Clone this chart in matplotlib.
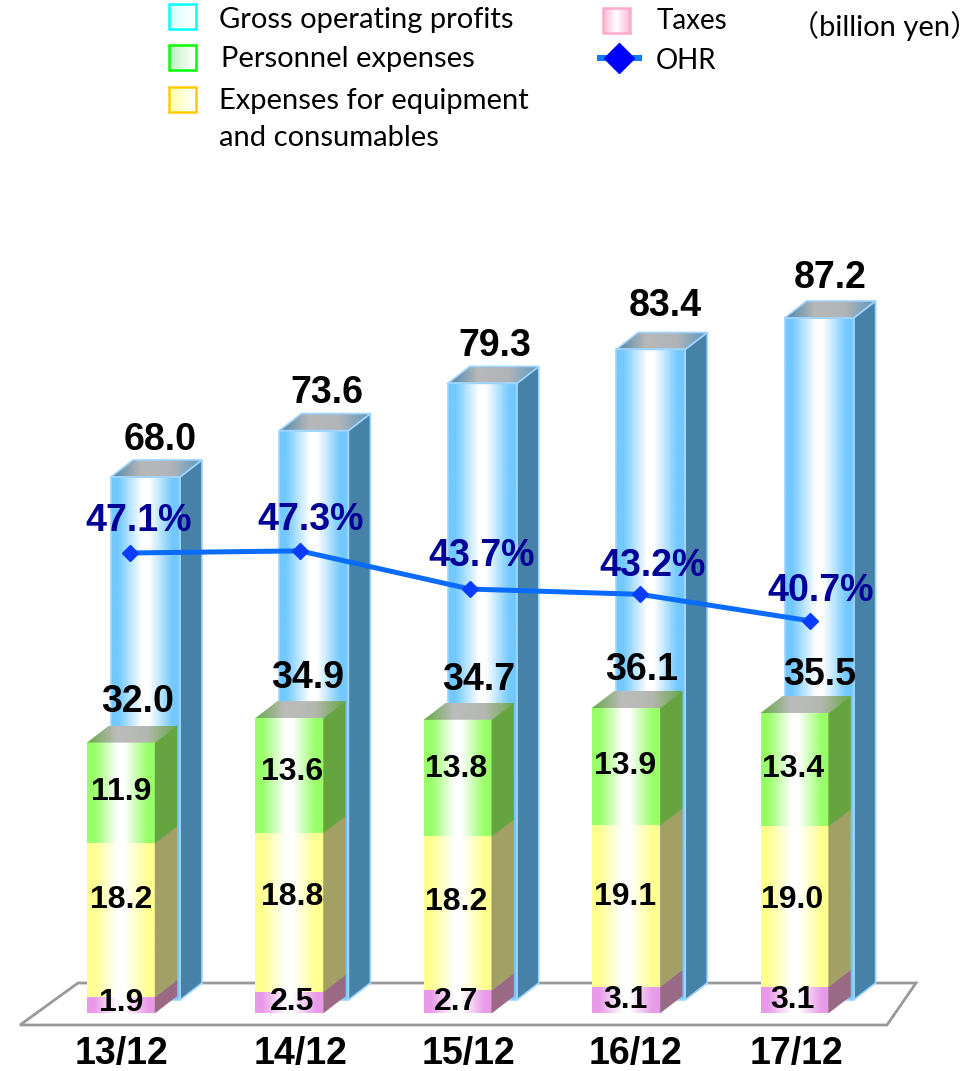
import matplotlib
matplotlib.use('Agg')
import matplotlib.pyplot as plt
import numpy as np
from matplotlib.colors import LinearSegmentedColormap
from matplotlib.patches import Polygon, Rectangle

W, H = 978, 1071

years = ['13/12', '14/12', '15/12', '16/12', '17/12']
gross_profits = [68.0, 73.6, 79.3, 83.4, 87.2]
taxes = [1.9, 2.5, 2.7, 3.1, 3.1]
equipment = [18.2, 18.8, 18.2, 19.1, 19.0]
personnel = [11.9, 13.6, 13.8, 13.9, 13.4]
total_expenses = [32.0, 34.9, 34.7, 36.1, 35.5]
ohr = [47.1, 47.3, 43.7, 43.2, 40.7]

# small per-column label nudges, in pixels
gross_nudge_x = [14.5, 13, 13, 15, 11]
gross_nudge_y = [-37, -38, -37, -43, -40]
total_nudge_x = [17, 18, 21, 15, 25]
total_nudge_y = [-41, -40, -40, -38, -38]
inner_nudge_x = [0, 2.5, -1.5, -1, -2]
tax_nudge_y = [-2, 0, 0, 0, 0]
equipment_nudge_y = [-20, -15.5, -11, -9, -6.5]
personnel_nudge_y = [-1, -4, -9, -1, -1]
ohr_nudge_x = [9, 11, 12, 13, 11]
ohr_nudge_y = [-32, -31, -33, -28, -30]
year_px = [121.5, 301, 468, 635.5, 796]

LABEL_FONT = 'Liberation Sans'
LEGEND_FONT = 'Lato'
DARK_BLUE = '#000099'


def px_pt(v):
    return v * 0.72


def new_axes(x_zero, x_step, y_zero, y_step, z):
    # axes over the whole figure, x in columns and y in the series' own unit
    ax = fig.add_axes([0, 0, 1, 1], zorder=z)
    ax.set_xlim(-x_zero / x_step, (W - x_zero) / x_step)
    ax.set_ylim((y_zero - H) / y_step, y_zero / y_step)
    ax.axis('off')
    return ax


def ramp(*colors):
    return LinearSegmentedColormap.from_list('ramp', colors)


def column_ramp(edge):
    return LinearSegmentedColormap.from_list('column', [
        (0, edge), (0.1, edge), (0.45, '#ffffff'), (0.55, '#ffffff'), (0.9, edge), (1, edge)])


def fill_gradient(ax, x0, x1, y0, y1, cmap, clip=None, z=2):
    grad = np.linspace(0, 1, 64).reshape(1, -1)
    im = ax.imshow(grad, extent=(x0, x1, y0, y1), cmap=cmap, aspect='auto',
                   interpolation='bilinear', origin='lower', zorder=z)
    if clip is not None:
        clip_patch = Polygon(clip, closed=True, transform=ax.transData)
        im.set_clip_path(clip_patch)
    return im


def prism(ax, x0, x1, v0, v1, dx, dy, front, side, top=None, edge=None):
    fill_gradient(ax, x0, x1, v0, v1, front)
    pts = [(x1, v0), (x1 + dx, v0 + dy), (x1 + dx, v1 + dy), (x1, v1)]
    ax.add_patch(Polygon(pts, closed=True, fc=side, ec=edge or side,
                         lw=1.2 if edge else 0.3, zorder=3))
    if top is not None:
        pts = [(x0, v1), (x0 + dx, v1 + dy), (x1 + dx, v1 + dy), (x1, v1)]
        fill_gradient(ax, x0, x1 + dx, v1, v1 + dy, top, clip=pts, z=3)
        if edge:
            ax.add_patch(Polygon(pts, closed=True, fc='none', ec=edge, lw=1.2, zorder=4))
    if edge:
        ax.add_patch(Rectangle((x0, v0), x1 - x0, v1 - v0, fc='none', ec=edge, lw=1.2, zorder=4))


def bold_label(ax, x, y, text, nx=0, ny=0, size=23, color='black'):
    ax.annotate(text, xy=(x, y), xytext=(px_pt(nx), -px_pt(ny)), textcoords='offset points',
                ha='center', va='center', fontsize=size, fontweight='bold',
                family=LABEL_FONT, color=color, zorder=10)


fig = plt.figure(figsize=(W / 100, H / 100), dpi=100, facecolor='white')

# floor and legend live in plain pixel coordinates
base = new_axes(0, 1, H, 1, 0)
base.set_ylim(H, 0)
base.add_patch(Polygon([(20, 1025), (887, 1025), (916, 983), (78, 983)], closed=True,
                       fc='none', ec='#999999', lw=2))

step = 168.4

# gross operating profit columns, standing behind the expense stacks
gross_ax = new_axes(145.5, step, 1040, 8.28, 1)
g_half = 34.5 / step
g_dx = 22 / step
g_dy = 17 / 8.28
g_floor = 40 / 8.28
blue_front = column_ramp('#72c9ff')
blue_top = ramp('#4f87aa', '#b8b8b8', '#b0b4b8', '#5f9ac0')
for i, v in enumerate(gross_profits):
    prism(gross_ax, i - g_half, i + g_half, g_floor, v, g_dx, g_dy, blue_front, '#4682a8',
          top=blue_top, edge='#9fd4ff')
    bold_label(gross_ax, i, v, f'{v:.1f}', gross_nudge_x[i], gross_nudge_y[i], size=27)

# stacked expenses
stack_ax = new_axes(121, step, 1013, 8.45, 2)
s_half = 34 / step
s_dx = 22 / step
s_dy = 17 / 8.45
tax_front = column_ramp('#e89ae8')
yellow_front = column_ramp('#ffff90')
green_front = column_ramp('#98ff68')
green_top = ramp('#6aa84a', '#bcbcbc', '#b4b8b0', '#6aa84a')
for i in range(len(years)):
    l, r = i - s_half, i + s_half
    t = taxes[i]
    e = t + equipment[i]
    p = e + personnel[i]
    prism(stack_ax, l, r, 0, t, s_dx, s_dy, tax_front, '#9a6a85')
    prism(stack_ax, l, r, t, e, s_dx, s_dy, yellow_front, '#a3a066')
    prism(stack_ax, l, r, e, p, s_dx, s_dy, green_front, '#66a440', top=green_top)
    nx = inner_nudge_x[i]
    bold_label(stack_ax, i, t / 2, f'{taxes[i]:.1f}', nx, tax_nudge_y[i], size=23)
    bold_label(stack_ax, i, t + equipment[i] / 2, f'{equipment[i]:.1f}', nx, equipment_nudge_y[i], size=23)
    bold_label(stack_ax, i, e + personnel[i] / 2, f'{personnel[i]:.1f}', nx, personnel_nudge_y[i], size=23)
    bold_label(stack_ax, i, total_expenses[i], f'{total_expenses[i]:.1f}',
               total_nudge_x[i], total_nudge_y[i], size=27)

# OHR line on its own percentage scale
ohr_ax = new_axes(130, 170, 553 + 47.1 * 10.6, 10.6, 3)
ohr_ax.plot(range(len(ohr)), ohr, color='#0a6cff', lw=px_pt(5), marker='D', ms=8,
            mfc='#0a3cff', mec='#0a3cff', zorder=5)
for i, v in enumerate(ohr):
    bold_label(ohr_ax, i, v, f'{v:.1f}%', ohr_nudge_x[i], ohr_nudge_y[i], size=27, color=DARK_BLUE)

# category labels and legend on top
top = new_axes(0, 1, H, 1, 4)
top.set_ylim(H, 0)
for x, name in zip(year_px, years):
    top.text(x, 1054, name, ha='center', va='center', fontsize=27, fontweight='bold', family=LABEL_FONT)

swatches = [(169, 4, '#00ffff', ramp('#d8ffff', '#ffffff')),
            (169, 45, '#00ff00', ramp('#c0f0c0', '#ffffff')),
            (169, 87, '#ffcc00', ramp('#ffffa8', '#ffffff')),
            (603, 8, '#ffaacc', ramp('#ffb8d8', '#ffffff', '#ffb8d8'))]
for x, y, ec, cm in swatches:
    fill_gradient(top, x, x + 27, y + 25, y, cm, z=2)
    top.add_patch(Rectangle((x, y), 27, 25, fc='none', ec=ec, lw=1.8, zorder=3))
top.set_xlim(0, W)
top.set_ylim(H, 0)

legend_items = [(219, 20, 'Gross operating profits', 21), (221, 59, 'Personnel expenses', 21),
                (219, 101, 'Expenses for equipment', 21), (219, 138, 'and consumables', 21),
                (657, 21, 'Taxes', 20), (656, 61, 'OHR', 20)]
for x, y, s, size in legend_items:
    top.text(x, y, s, ha='left', va='center', fontsize=size, family=LEGEND_FONT)
top.text(790, 26, '（billion yen）', ha='left', va='center', fontsize=21,
         family=[LEGEND_FONT, 'Noto Sans CJK JP'])

top.plot([597, 642], [58, 58], color='#0a7cff', lw=px_pt(6), solid_capstyle='butt')
top.plot([619], [58], marker='D', ms=15, color='#0000ff')

fig.savefig('out.png', dpi=100)
